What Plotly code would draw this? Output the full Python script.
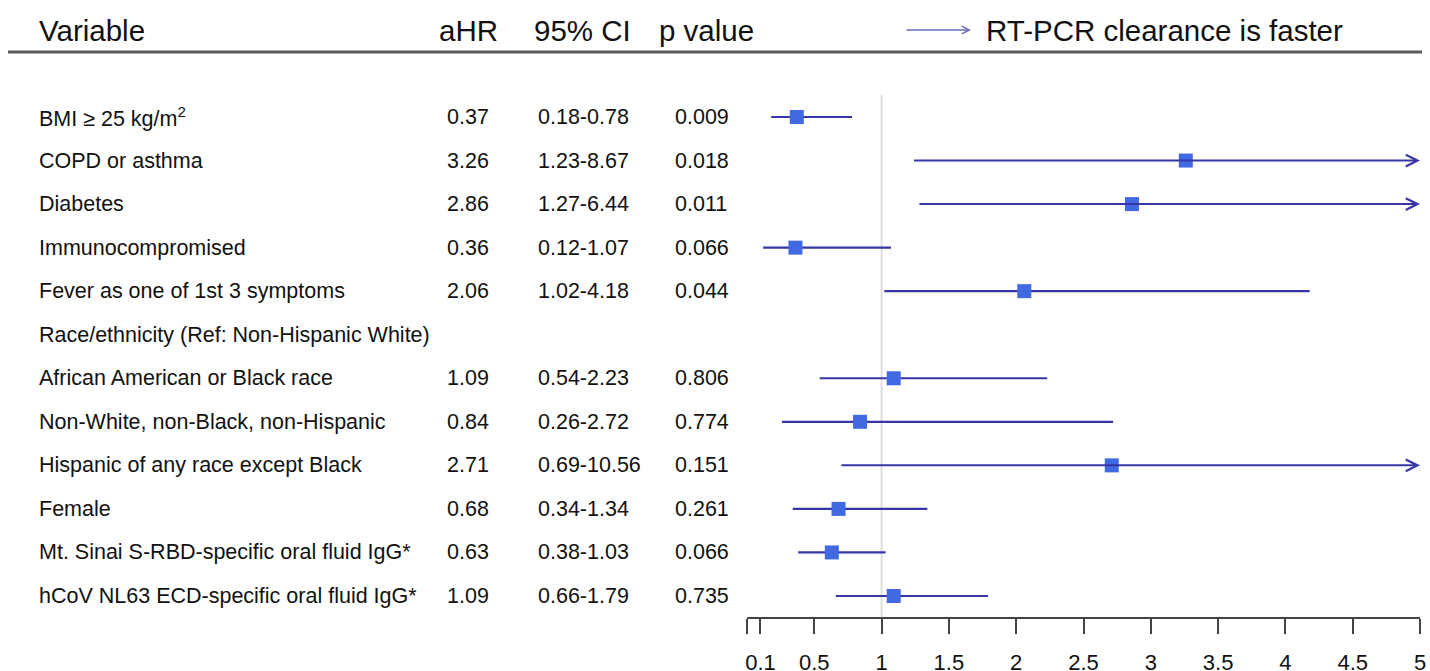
import plotly.graph_objects as go

# ---------------- data ----------------
variables = [
    "BMI ≥ 25 kg/m<sup>2</sup>",
    "COPD or asthma",
    "Diabetes",
    "Immunocompromised",
    "Fever as one of 1st 3 symptoms",
    "Race/ethnicity (Ref: Non-Hispanic White)",
    "African American or Black race",
    "Non-White, non-Black, non-Hispanic",
    "Hispanic of any race except Black",
    "Female",
    "Mt. Sinai S-RBD-specific oral fluid IgG*",
    "hCoV NL63 ECD-specific oral fluid IgG*",
]
ahr = [0.37, 3.26, 2.86, 0.36, 2.06, None, 1.09, 0.84, 2.71, 0.68, 0.63, 1.09]
ci_lo = [0.18, 1.23, 1.27, 0.12, 1.02, None, 0.54, 0.26, 0.69, 0.34, 0.38, 0.66]
ci_hi = [0.78, 8.67, 6.44, 1.07, 4.18, None, 2.23, 2.72, 10.56, 1.34, 1.03, 1.79]
p_values = ["0.009", "0.018", "0.011", "0.066", "0.044", "", "0.806", "0.774",
            "0.151", "0.261", "0.066", "0.735"]
tick_vals = [0, 0.1, 0.5, 1, 1.5, 2, 2.5, 3, 3.5, 4, 4.5, 5]
tick_text = ["", "0.1", "0.5", "1", "1.5", "2", "2.5", "3", "3.5", "4", "4.5", "5"]
headers = ["Variable", "aHR", "95% CI", "p value"]
direction_label = "RT-PCR clearance is faster"
x_max = 5

# ---------------- layout geometry ----------------
PAGE_W, PAGE_H = 1430, 671
OFF = 0                      # body margin removed by post_script below
W, H = PAGE_W - 2 * OFF, PAGE_H - 2 * OFF

def fx(px):  # page pixel x -> paper fraction
    return (px - OFF) / W

def fy(px):  # page pixel y -> paper fraction
    return 1 - (px - OFF) / H

row0_px, row_step = 117, 43.545
axis_px = 617

def py(px):  # page pixel y -> row units
    return (px - row0_px) / row_step

FONT = "Liberation Sans, Arial, sans-serif"
LINE_COL = "#3636a8"
MARK_COL = "#4169e1"
PAD = 3  # annotation inner padding

rows = list(range(len(variables)))

fig = go.Figure()

lx, ly = [], []
annotations = []
for i in rows:
    if ahr[i] is None:
        continue
    if ci_hi[i] > x_max:
        annotations.append(dict(
            x=x_max, y=i, ax=ci_lo[i], ay=i, xref="x", yref="y", axref="x", ayref="y",
            showarrow=True, arrowhead=5, arrowsize=1.15, arrowwidth=2,
            arrowcolor=LINE_COL, text="", standoff=0))
    else:
        lx += [ci_lo[i], ci_hi[i], None]
        ly += [i, i, None]

fig.add_trace(go.Scatter(x=lx, y=ly, mode="lines",
                         line=dict(color=LINE_COL, width=2.2), hoverinfo="skip",
                         showlegend=False))
fig.add_trace(go.Scatter(
    x=[a for a in ahr if a is not None],
    y=[i for i in rows if ahr[i] is not None],
    mode="markers", marker=dict(symbol="square", size=14, color=MARK_COL),
    showlegend=False))

col_x = [40, 448, 539, 676]
for i in rows:
    cells = [variables[i]]
    if ahr[i] is not None:
        cells += [f"{ahr[i]:.2f}", f"{ci_lo[i]:.2f}-{ci_hi[i]:.2f}", p_values[i]]
    for cx, txt in zip(col_x, cells):
        annotations.append(dict(
            x=fx(cx - PAD), y=i, xref="paper", yref="y", text=txt, showarrow=False,
            xanchor="left", yanchor="middle",
            font=dict(family=FONT, size=21.5, color="#111111")))

head_x = [40, 440, 535, 660]
for hx, txt in zip(head_x, headers):
    annotations.append(dict(
        x=fx(hx - PAD), y=fy(30), xref="paper", yref="paper", text=txt,
        showarrow=False, xanchor="left", yanchor="middle",
        font=dict(family=FONT, size=29.5, color="#111111")))
annotations.append(dict(
    x=fx(987 - PAD), y=fy(30), xref="paper", yref="paper", text=direction_label,
    showarrow=False, xanchor="left", yanchor="middle",
    font=dict(family=FONT, size=29.5, color="#111111")))
annotations.append(dict(
    x=fx(971), y=fy(30), ax=-66, ay=0,
    xref="paper", yref="paper", axref="pixel", ayref="pixel",
    showarrow=True, arrowhead=5, arrowsize=1.0, arrowwidth=1.5,
    arrowcolor="#6a6ac0", text="", standoff=0))

shapes = [
    dict(type="line", xref="paper", yref="paper", x0=fx(8), x1=fx(1422),
         y0=fy(52), y1=fy(52), line=dict(color="#5a5a5a", width=3)),
    dict(type="line", xref="x", yref="y", x0=1, x1=1, y0=py(95), y1=py(axis_px),
         line=dict(color="#dedede", width=2), layer="below"),
]

fig.update_layout(
    width=W, height=H,
    margin=dict(l=0, r=0, t=0, b=0, autoexpand=False),
    paper_bgcolor="white", plot_bgcolor="white",
    showlegend=False,
    annotations=annotations,
    shapes=shapes,
    xaxis=dict(domain=[fx(747), fx(1420)], range=[0, x_max], automargin=False,
               showgrid=False, zeroline=False, showline=True,
               linecolor="#444444", linewidth=2,
               ticks="outside", ticklen=15, tickwidth=2, tickcolor="#444444",
               tickvals=tick_vals, ticktext=tick_text, ticklabelstandoff=10,
               ticklabeloverflow="allow",
               tickfont=dict(family=FONT, size=22, color="#111111")),
    yaxis=dict(domain=[fy(axis_px), 1], range=[py(axis_px), py(OFF)],
               automargin=False,
               showgrid=False, zeroline=False, showline=False,
               showticklabels=False, ticks=""),
)

fig.write_html(
    "out.html",
    config={"displayModeBar": False},
    post_script="document.body.style.margin='0';document.body.style.overflow='hidden';",
)
